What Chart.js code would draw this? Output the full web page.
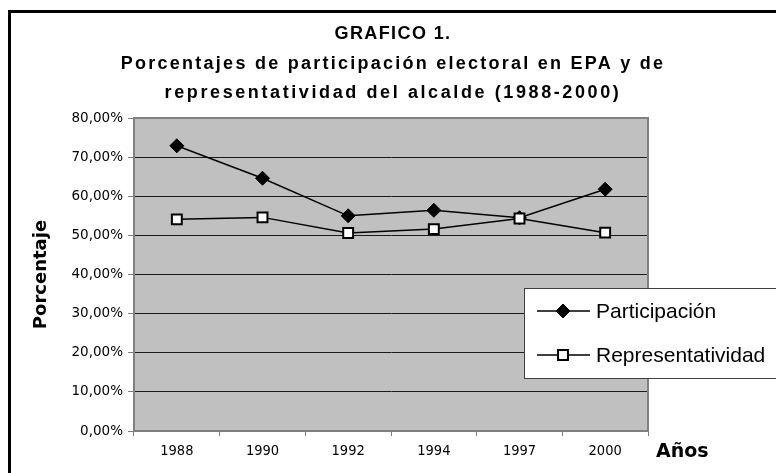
<!DOCTYPE html>
<html>
<head>
<meta charset="utf-8">
<script src="https://cdn.jsdelivr.net/npm/chart.js@4/dist/chart.umd.min.js"></script>
<style>
  html, body { margin: 0; padding: 0; background: #fff; }
  #wrap { width: 776px; height: 473px; }
</style>
</head>
<body>
<div id="wrap"><canvas id="chart" width="776" height="473"></canvas></div>
<script>
// DATA
const YEARS = ["1988", "1990", "1992", "1994", "1997", "2000"];
const PARTICIPACION = [72.9, 64.6, 55.0, 56.4, 54.5, 61.8];
const REPRESENTATIVIDAD = [54.1, 54.6, 50.6, 51.6, 54.3, 50.7];
const Y_MAX = 80;
const Y_STEP = 10;
const TITLE_LINES = [
  "GRAFICO 1.",
  "Porcentajes de participación electoral en EPA y de",
  "representatividad del alcalde (1988-2000)"
];
const SERIES_NAMES = ["Participación", "Representatividad"];

// outer frame + grey plot area
const framePlugin = {
  id: "frame",
  beforeDraw(chart) {
    const { ctx, chartArea: a } = chart;
    ctx.save();
    ctx.fillStyle = "#fff";
    ctx.fillRect(0, 0, chart.width, chart.height);
    ctx.strokeStyle = "#000";
    ctx.lineWidth = 3;
    ctx.strokeRect(9.5, 11.5, chart.width + 40, chart.height + 40);
    ctx.fillStyle = "#c0c0c0";
    ctx.fillRect(a.left, a.top, a.right - a.left, a.bottom - a.top);
    ctx.restore();
  },
  beforeDatasetsDraw(chart) {
    const { ctx, chartArea: a } = chart;
    ctx.save();
    ctx.strokeStyle = "#808080";
    ctx.lineWidth = 2;
    ctx.strokeRect(a.left, a.top, a.right - a.left, a.bottom - a.top);
    ctx.restore();
  }
};

// title with spaced letters, legend box, "Años" label
const textPlugin = {
  id: "texts",
  afterDraw(chart) {
    const { ctx, chartArea: a } = chart;
    ctx.save();
    ctx.fillStyle = "#000";
    ctx.textAlign = "center";
    ctx.textBaseline = "alphabetic";
    ctx.font = 'bold 18px "Liberation Sans", Arial, sans-serif';
    const ys = [39, 68.5, 98];
    const spacing = [1.4, 2.25, 2.6];
    TITLE_LINES.forEach((t, i) => {
      ctx.letterSpacing = spacing[i] + "px";
      ctx.fillText(t, 393, ys[i]);
    });
    ctx.letterSpacing = "0px";

    // Años
    ctx.textAlign = "left";
    ctx.textBaseline = "middle";
    ctx.font = 'bold 19px "DejaVu Sans", sans-serif';
    ctx.fillText("Años", a.right + 8, 452);

    // legend
    const lx = 524, ly = 288, lw = 270, lh = 90;
    ctx.fillStyle = "#fff";
    ctx.fillRect(lx, ly, lw, lh);
    ctx.strokeStyle = "#404040";
    ctx.lineWidth = 1;
    ctx.strokeRect(lx + 0.5, ly + 0.5, lw, lh);
    ctx.font = '21px "Liberation Sans", Arial, sans-serif';
    chart.data.datasets.forEach((ds, i) => {
      const cy = ly + 23 + i * 44;
      ctx.strokeStyle = ds.borderColor;
      ctx.lineWidth = ds.borderWidth;
      ctx.beginPath();
      ctx.moveTo(537, cy);
      ctx.lineTo(590, cy);
      ctx.stroke();
      ctx.fillStyle = ds.pointBackgroundColor;
      ctx.strokeStyle = ds.pointBorderColor;
      ctx.lineWidth = ds.pointBorderWidth;
      Chart.helpers.drawPoint(ctx, { pointStyle: ds.pointStyle, radius: ds.pointRadius, borderWidth: ds.pointBorderWidth, rotation: 0 }, 563, cy);
      ctx.fillStyle = "#000";
      ctx.fillText(ds.label, 596, cy + 1);
    });
    ctx.restore();
  }
};

new Chart(document.getElementById("chart"), {
  type: "line",
  data: {
    labels: YEARS,
    datasets: [
      {
        label: SERIES_NAMES[0],
        data: PARTICIPACION,
        borderColor: "#000",
        borderWidth: 1.5,
        pointStyle: "rectRot",
        pointRadius: 7,
        pointBackgroundColor: "#000",
        pointBorderColor: "#000",
        pointBorderWidth: 1,
        tension: 0,
        order: 1
      },
      {
        label: SERIES_NAMES[1],
        data: REPRESENTATIVIDAD,
        borderColor: "#000",
        borderWidth: 1.5,
        pointStyle: "rect",
        pointRadius: 7,
        pointBackgroundColor: "#fff",
        pointBorderColor: "#000",
        pointBorderWidth: 2,
        tension: 0,
        order: 0
      }
    ]
  },
  options: {
    responsive: false,
    animation: false,
    layout: { padding: { left: 10, right: 128, top: 118, bottom: 0 } },
    plugins: {
      legend: { display: false },
      title: { display: false },
      tooltip: { enabled: false }
    },
    scales: {
      x: {
        offset: true,
        afterFit: (s) => { s.height = 42; },
        border: { color: "#808080", width: 2 },
        grid: {
          offset: true,
          drawOnChartArea: false,
          drawTicks: true,
          tickLength: 5,
          tickColor: "#808080"
        },
        ticks: {
          padding: 7,
          color: "#000",
          maxRotation: 0,
          font: { family: '"Liberation Sans Narrow", "DejaVu Sans Condensed", sans-serif', size: 14.5 }
        }
      },
      y: {
        min: 0,
        max: Y_MAX,
        afterFit: (s) => { s.width = 124; },
        border: { color: "#808080", width: 2 },
        grid: {
          color: (c) => (c.tick && c.tick.value === Y_MAX ? "#808080" : "#1a1a1a"),
          lineWidth: 1,
          tickLength: 6,
          tickColor: "#808080"
        },
        ticks: {
          stepSize: Y_STEP,
          padding: 5,
          color: "#000",
          font: { family: '"DejaVu Sans", sans-serif', size: 13.5 },
          callback: (v) => v.toFixed(2).replace(".", ",") + "%"
        },
        title: {
          display: true,
          text: "Porcentaje",
          color: "#000",
          font: { family: '"DejaVu Sans", sans-serif', weight: "bold", size: 18 },
          padding: { top: 21, bottom: 0 }
        }
      }
    }
  },
  plugins: [framePlugin, textPlugin]
});
</script>
</body>
</html>
